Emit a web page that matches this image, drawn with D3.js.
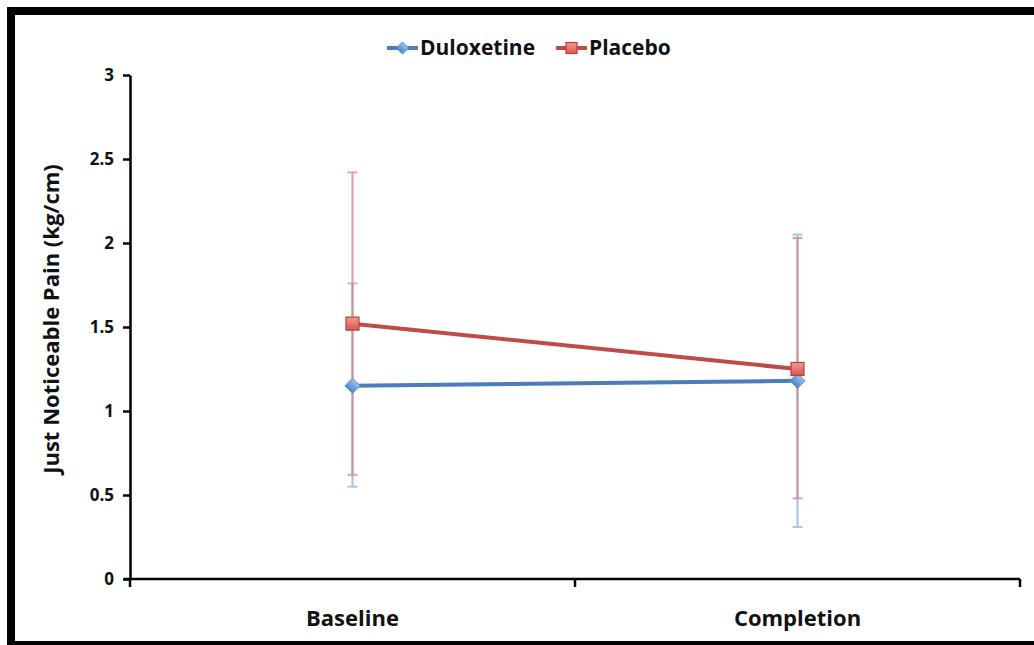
<!DOCTYPE html>
<html>
<head>
<meta charset="utf-8">
<script src="https://cdn.jsdelivr.net/npm/d3@7"></script>
<style>
  body { margin: 0; background: #fff; }
  svg { display: block; font-family: "Open Sans", "Noto Sans", sans-serif; font-weight: bold; }
</style>
</head>
<body>
<svg id="graph" width="1034" height="645"></svg>
<script>
var categories = ["Baseline", "Completion"];
var seriesNames = ["Duloxetine", "Placebo"];
var duloxetine = [1.15, 1.18];
var duloxetineHigh = [1.76, 2.05];
var duloxetineLow = [0.55, 0.31];
var placebo = [1.52, 1.25];
var placeboHigh = [2.42, 2.03];
var placeboLow = [0.62, 0.48];
var yTicks = [0, 0.5, 1, 1.5, 2, 2.5, 3];

var svg = d3.select("#graph");
var width = 1034, height = 645;
var margin = { top: 75, right: 14, bottom: 66, left: 130 };

var colors = { Duloxetine: "#4a7ebb", Placebo: "#be4b48" };
var light = { Duloxetine: "#8fb2de", Placebo: "#d98583" };

var series = [
  { name: "Duloxetine", values: duloxetine, hi: duloxetineHigh, lo: duloxetineLow },
  { name: "Placebo", values: placebo, hi: placeboHigh, lo: placeboLow }
];

// frame
svg.append("rect").attr("x", 11).attr("y", 11).attr("width", width + 10).attr("height", 634)
  .attr("fill", "none").attr("stroke", "#000").attr("stroke-width", 8);

var x = d3.scaleBand().domain(categories).range([margin.left, width - margin.right]);
var y = d3.scaleLinear().domain([0, 3]).range([height - margin.bottom, margin.top]);

// y axis
var yAxis = g => g
  .attr("transform", `translate(${margin.left},0)`)
  .call(d3.axisLeft(y).tickValues(yTicks).tickFormat(d3.format("")).tickSizeInner(7).tickSizeOuter(0))
  .call(g => g.select(".domain").attr("stroke-width", 2.5))
  .call(g => g.selectAll(".tick line").attr("stroke-width", 2.5))
  .call(g => g.selectAll(".tick text").attr("x", -16).attr("font-size", 17)
    .attr("font-weight", "bold").attr("font-family", "Open Sans").attr("fill", "#111"));

// x axis with ticks between categories
var xEdges = [x.range()[0]].concat(categories.map(c => x(c) + x.bandwidth()));
var xAxis = g => g
  .attr("transform", `translate(0,${y(0)})`)
  .call(g => g.append("line").attr("x1", x.range()[0] - 6).attr("x2", x.range()[1])
    .attr("stroke", "#000").attr("stroke-width", 2.5))
  .call(g => g.selectAll(".xt").data(xEdges).join("line")
    .attr("x1", d => d).attr("x2", d => d).attr("y1", 0).attr("y2", 8)
    .attr("stroke", "#000").attr("stroke-width", 2.5))
  .call(g => g.selectAll(".xl").data(categories).join("text")
    .attr("x", d => x(d) + x.bandwidth() / 2).attr("y", 47)
    .attr("text-anchor", "middle").attr("font-size", 22).attr("fill", "#111")
    .text(d => d));

svg.append("g").call(yAxis);
svg.append("g").call(xAxis);

// y title
svg.append("text")
  .attr("transform", `translate(59,${(y(0) + y(3)) / 2 - 8}) rotate(-90)`)
  .attr("text-anchor", "middle").attr("font-size", 22).attr("fill", "#111")
  .text("Just Noticeable Pain (kg/cm)");

var cx = d => x(d) + x.bandwidth() / 2;

// error bars
series.forEach(s => {
  var g = svg.append("g").attr("opacity", 0.75);
  categories.forEach((c, i) => {
    g.append("line").attr("x1", cx(c)).attr("x2", cx(c))
      .attr("y1", y(s.lo[i])).attr("y2", y(s.hi[i]))
      .attr("stroke", light[s.name]).attr("stroke-width", 2.2);
    [s.lo[i], s.hi[i]].forEach(v => {
      g.append("line").attr("x1", cx(c) - 5).attr("x2", cx(c) + 5)
        .attr("y1", y(v)).attr("y2", y(v))
        .attr("stroke", light[s.name]).attr("stroke-width", 2);
    });
  });
});

var line = d3.line().x((d, i) => cx(categories[i])).y(d => y(d));

var defs = svg.append("defs");
var gr = defs.append("linearGradient").attr("id", "redg").attr("x1", 0).attr("y1", 0).attr("x2", 0).attr("y2", 1);
gr.append("stop").attr("offset", "0%").attr("stop-color", "#f19a98");
gr.append("stop").attr("offset", "100%").attr("stop-color", "#d9544f");
var gb = defs.append("linearGradient").attr("id", "blueg").attr("x1", 0).attr("y1", 0).attr("x2", 0).attr("y2", 1);
gb.append("stop").attr("offset", "0%").attr("stop-color", "#9cc0ec");
gb.append("stop").attr("offset", "100%").attr("stop-color", "#4f86c9");

function marker(g, name, px, py, size) {
  if (name === "Duloxetine") {
    g.append("path").attr("d", d3.symbol(d3.symbolSquare, size * size)())
      .attr("transform", `translate(${px},${py}) rotate(45) scale(0.72)`)
      .attr("fill", "url(#blueg)").attr("stroke", "#5b8ccb").attr("stroke-width", 1.2);
  } else {
    g.append("rect").attr("x", px - size / 2).attr("y", py - size / 2)
      .attr("width", size).attr("height", size)
      .attr("fill", "url(#redg)").attr("stroke", "#b7403c").attr("stroke-width", 1.2);
  }
}

series.forEach(s => {
  svg.append("path").datum(s.values).attr("d", line)
    .attr("fill", "none").attr("stroke", colors[s.name]).attr("stroke-width", 4);
});
series.forEach(s => {
  var g = svg.append("g");
  s.values.forEach((v, i) => marker(g, s.name, cx(categories[i]), y(v), s.name === "Duloxetine" ? 15 : 13));
});

// legend
var legendX = [387, 556];
var lg = svg.append("g");
seriesNames.forEach((n, i) => {
  var lx = legendX[i], ly = 48;
  lg.append("line").attr("x1", lx).attr("x2", lx + 31).attr("y1", ly).attr("y2", ly)
    .attr("stroke", colors[n]).attr("stroke-width", 4);
  marker(lg, n, lx + 15.5, ly, n === "Duloxetine" ? 12 : 11);
  lg.append("text").attr("x", lx + 33).attr("y", ly + 7).attr("font-size", 21).attr("fill", "#111").text(n);
});
</script>
</body>
</html>
